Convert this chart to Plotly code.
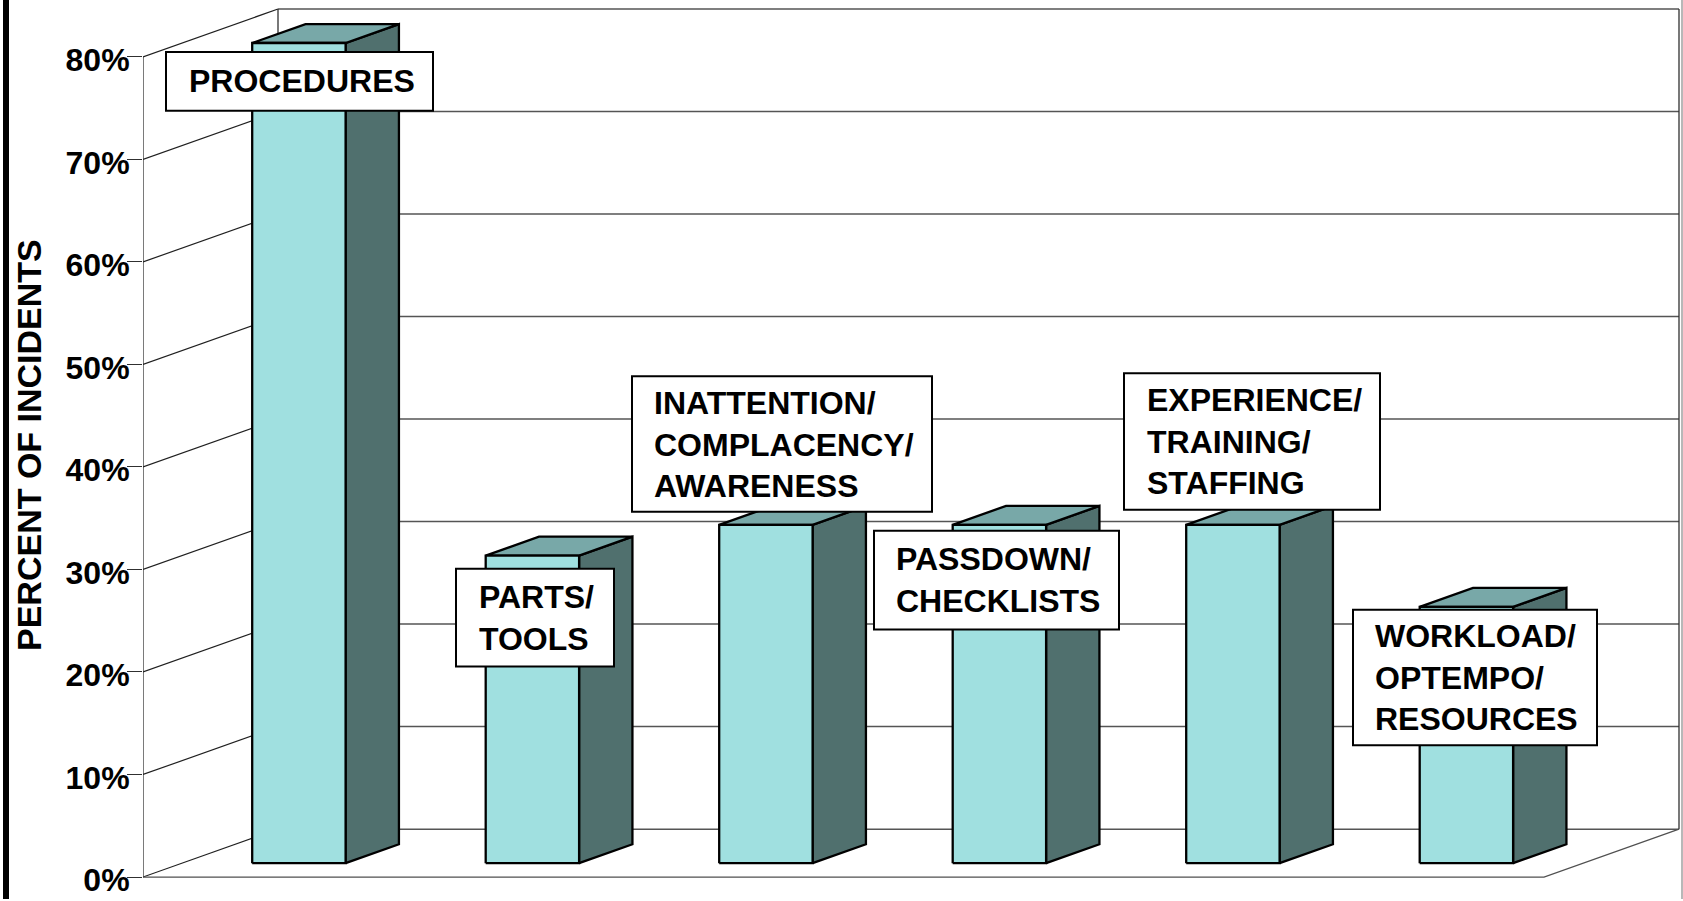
import plotly.graph_objects as go

# ---------------- data ----------------
categories = ["PROCEDURES", "PARTS/TOOLS", "INATTENTION/COMPLACENCY/AWARENESS",
              "PASSDOWN/CHECKLISTS", "EXPERIENCE/TRAINING/STAFFING",
              "WORKLOAD/OPTEMPO/RESOURCES"]
label_lines = [["PROCEDURES"],
               ["PARTS/", "TOOLS"],
               ["INATTENTION/", "COMPLACENCY/", "AWARENESS"],
               ["PASSDOWN/", "CHECKLISTS"],
               ["EXPERIENCE/", "TRAINING/", "STAFFING"],
               ["WORKLOAD/", "OPTEMPO/", "RESOURCES"]]
values = [80, 30, 33, 33, 33, 25]
tick_values = [0, 10, 20, 30, 40, 50, 60, 70, 80]
tick_labels = ["0%", "10%", "20%", "30%", "40%", "50%", "60%", "70%", "80%"]
y_title = "PERCENT OF INCIDENTS"

# ---------------- layout geometry ----------------
W, H = 1683, 901
L, R, T, B = 143, 3, 4, 10
CAT_PX = 233.5           # pixels per category on the front plane
PCT_PX = 10.275          # pixels per percent
Y0_PX = 879              # pixel row of 0 %
plot_w = W - L - R
plot_h = H - T - B
ymin = -(H - B - Y0_PX) / PCT_PX
ymax = ymin + plot_h / PCT_PX
xmin = -0.5
xmax = xmin + plot_w / CAT_PX
DEPTH_X = 135 / CAT_PX   # oblique depth in category units
DEPTH_Y = 48 / PCT_PX    # oblique depth in percent units
D0, D1 = 0.29, 0.685     # bar front/back depth fraction
HALF_W = 0.2
n = len(values)
vmax = tick_values[-1]


def data_x(px):
    return xmin + (px - L) / CAT_PX


def data_y(py):
    return (Y0_PX - py) / PCT_PX


def paper_x(px):
    return (px - L) / plot_w


def paper_y(py):
    return (H - B - py) / plot_h


# label boxes in pixels: (left, top, right, bottom, text_left)
label_boxes = [(166, 52, 433, 111, 188),
               (456, 570, 614, 668, 478),
               (632, 377, 932, 513, 653),
               (874, 532, 1119, 631, 895),
               (1124, 374, 1380, 511, 1146),
               (1353, 611, 1597, 747, 1374)]

FRONT = "#A0E0E0"
SIDE = "#50706E"
TOP = "#78A8A8"
GRID = "#555555"

fig = go.Figure()

# ---------- back wall gridlines ----------
gx, gy = [], []
for v in tick_values:
    gx += [xmin + DEPTH_X, xmin + n + DEPTH_X, None]
    gy += [v + DEPTH_Y, v + DEPTH_Y, None]
fig.add_trace(go.Scatter(x=gx, y=gy, mode="lines",
                         line=dict(color=GRID, width=1.5), hoverinfo="skip"))

# back wall verticals (left and right)
fig.add_trace(go.Scatter(
    x=[xmin + DEPTH_X, xmin + DEPTH_X, None, xmin + n + DEPTH_X, xmin + n + DEPTH_X],
    y=[DEPTH_Y, vmax + DEPTH_Y, None, DEPTH_Y, vmax + DEPTH_Y],
    mode="lines", line=dict(color="#303030", width=1.3), hoverinfo="skip"))

# ---------- left wall ----------
lx, ly = [], []
for v in tick_values:
    lx += [xmin, xmin + DEPTH_X, None]
    ly += [v, v + DEPTH_Y, None]
lx += [xmin, xmin, None]
ly += [0, vmax, None]
fig.add_trace(go.Scatter(x=lx, y=ly, mode="lines",
                         line=dict(color="#202020", width=1.2), hoverinfo="skip"))

# ---------- floor edges ----------
fig.add_trace(go.Scatter(x=[xmin, xmin + n, xmin + n + DEPTH_X],
                         y=[0, 0, DEPTH_Y], mode="lines",
                         line=dict(color="#505050", width=1.2), hoverinfo="skip"))

# ---------- bars ----------
ax, ay = D0 * DEPTH_X, D0 * DEPTH_Y
bx, by = D1 * DEPTH_X, D1 * DEPTH_Y
fxs, fys, sxs, sys_, txs, tys = [], [], [], [], [], []
for i, v in enumerate(values):
    xl, xr = i - HALF_W, i + HALF_W
    fxs += [xl + ax, xr + ax, xr + ax, xl + ax, xl + ax, None]
    fys += [ay, ay, v + ay, v + ay, ay, None]
    sxs += [xr + ax, xr + bx, xr + bx, xr + ax, xr + ax, None]
    sys_ += [ay, by, v + by, v + ay, ay, None]
    txs += [xl + ax, xr + ax, xr + bx, xl + bx, xl + ax, None]
    tys += [v + ay, v + ay, v + by, v + by, v + ay, None]

outline = dict(color="black", width=2.3)
fig.add_trace(go.Scatter(x=sxs, y=sys_, fill="toself", fillcolor=SIDE,
                         mode="lines", line=outline, hoverinfo="skip"))
fig.add_trace(go.Scatter(x=txs, y=tys, fill="toself", fillcolor=TOP,
                         mode="lines", line=outline, hoverinfo="skip"))
fig.add_trace(go.Scatter(x=fxs, y=fys, fill="toself", fillcolor=FRONT,
                         mode="lines", line=outline, hoverinfo="skip"))

# ---------- label boxes ----------
shapes = []
annotations = []
for (x0, y0, x1, y1, tx), lines in zip(label_boxes, label_lines):
    shapes.append(dict(type="rect", xref="x", yref="y",
                       x0=data_x(x0), x1=data_x(x1), y0=data_y(y1), y1=data_y(y0),
                       fillcolor="white", line=dict(color="black", width=2),
                       layer="above"))
    annotations.append(dict(xref="x", yref="y", x=data_x(tx), y=data_y((y0 + y1) / 2),
                            xanchor="left", yanchor="middle", align="left",
                            text="<br>".join(lines), showarrow=False, borderpad=0,
                            font=dict(family="Liberation Sans", size=32,
                                      color="black", weight="bold")))

# y-axis title
annotations.append(dict(xref="paper", yref="paper", x=paper_x(29), y=paper_y(446),
                        xanchor="center", yanchor="middle", textangle=-90,
                        text=y_title, showarrow=False,
                        font=dict(family="Liberation Sans", size=34,
                                  color="black", weight="bold")))

# page border decorations
shapes.append(dict(type="rect", xref="paper", yref="paper",
                   x0=paper_x(3), x1=paper_x(9), y0=paper_y(H), y1=paper_y(0),
                   fillcolor="black", line=dict(width=0), layer="above"))
shapes.append(dict(type="line", xref="paper", yref="paper",
                   x0=paper_x(1682), x1=paper_x(1682), y0=paper_y(H), y1=paper_y(0),
                   line=dict(color="#A0A0A0", width=1.5), layer="above"))

fig.update_layout(
    width=W, height=H,
    margin=dict(l=L, r=R, t=T, b=B, pad=0),
    paper_bgcolor="white", plot_bgcolor="white",
    showlegend=False,
    shapes=shapes, annotations=annotations,
    xaxis=dict(range=[xmin, xmax], visible=False, fixedrange=True),
    yaxis=dict(range=[ymin, ymax], showgrid=False, zeroline=False, showline=False,
               tickvals=tick_values, ticktext=tick_labels,
               ticks="outside", ticklen=15, tickwidth=1, tickcolor="#303030",
               ticklabelshift=3, ticklabelstandoff=-9, ticklabeloverflow="allow",
               tickfont=dict(family="Liberation Sans", size=32, color="black",
                             weight="bold"),
               fixedrange=True),
)

fig.write_html("out.html", config={"displayModeBar": False},
               post_script="document.body.style.margin='0';document.body.style.overflow='hidden';"
                           "document.documentElement.style.overflow='hidden';")
